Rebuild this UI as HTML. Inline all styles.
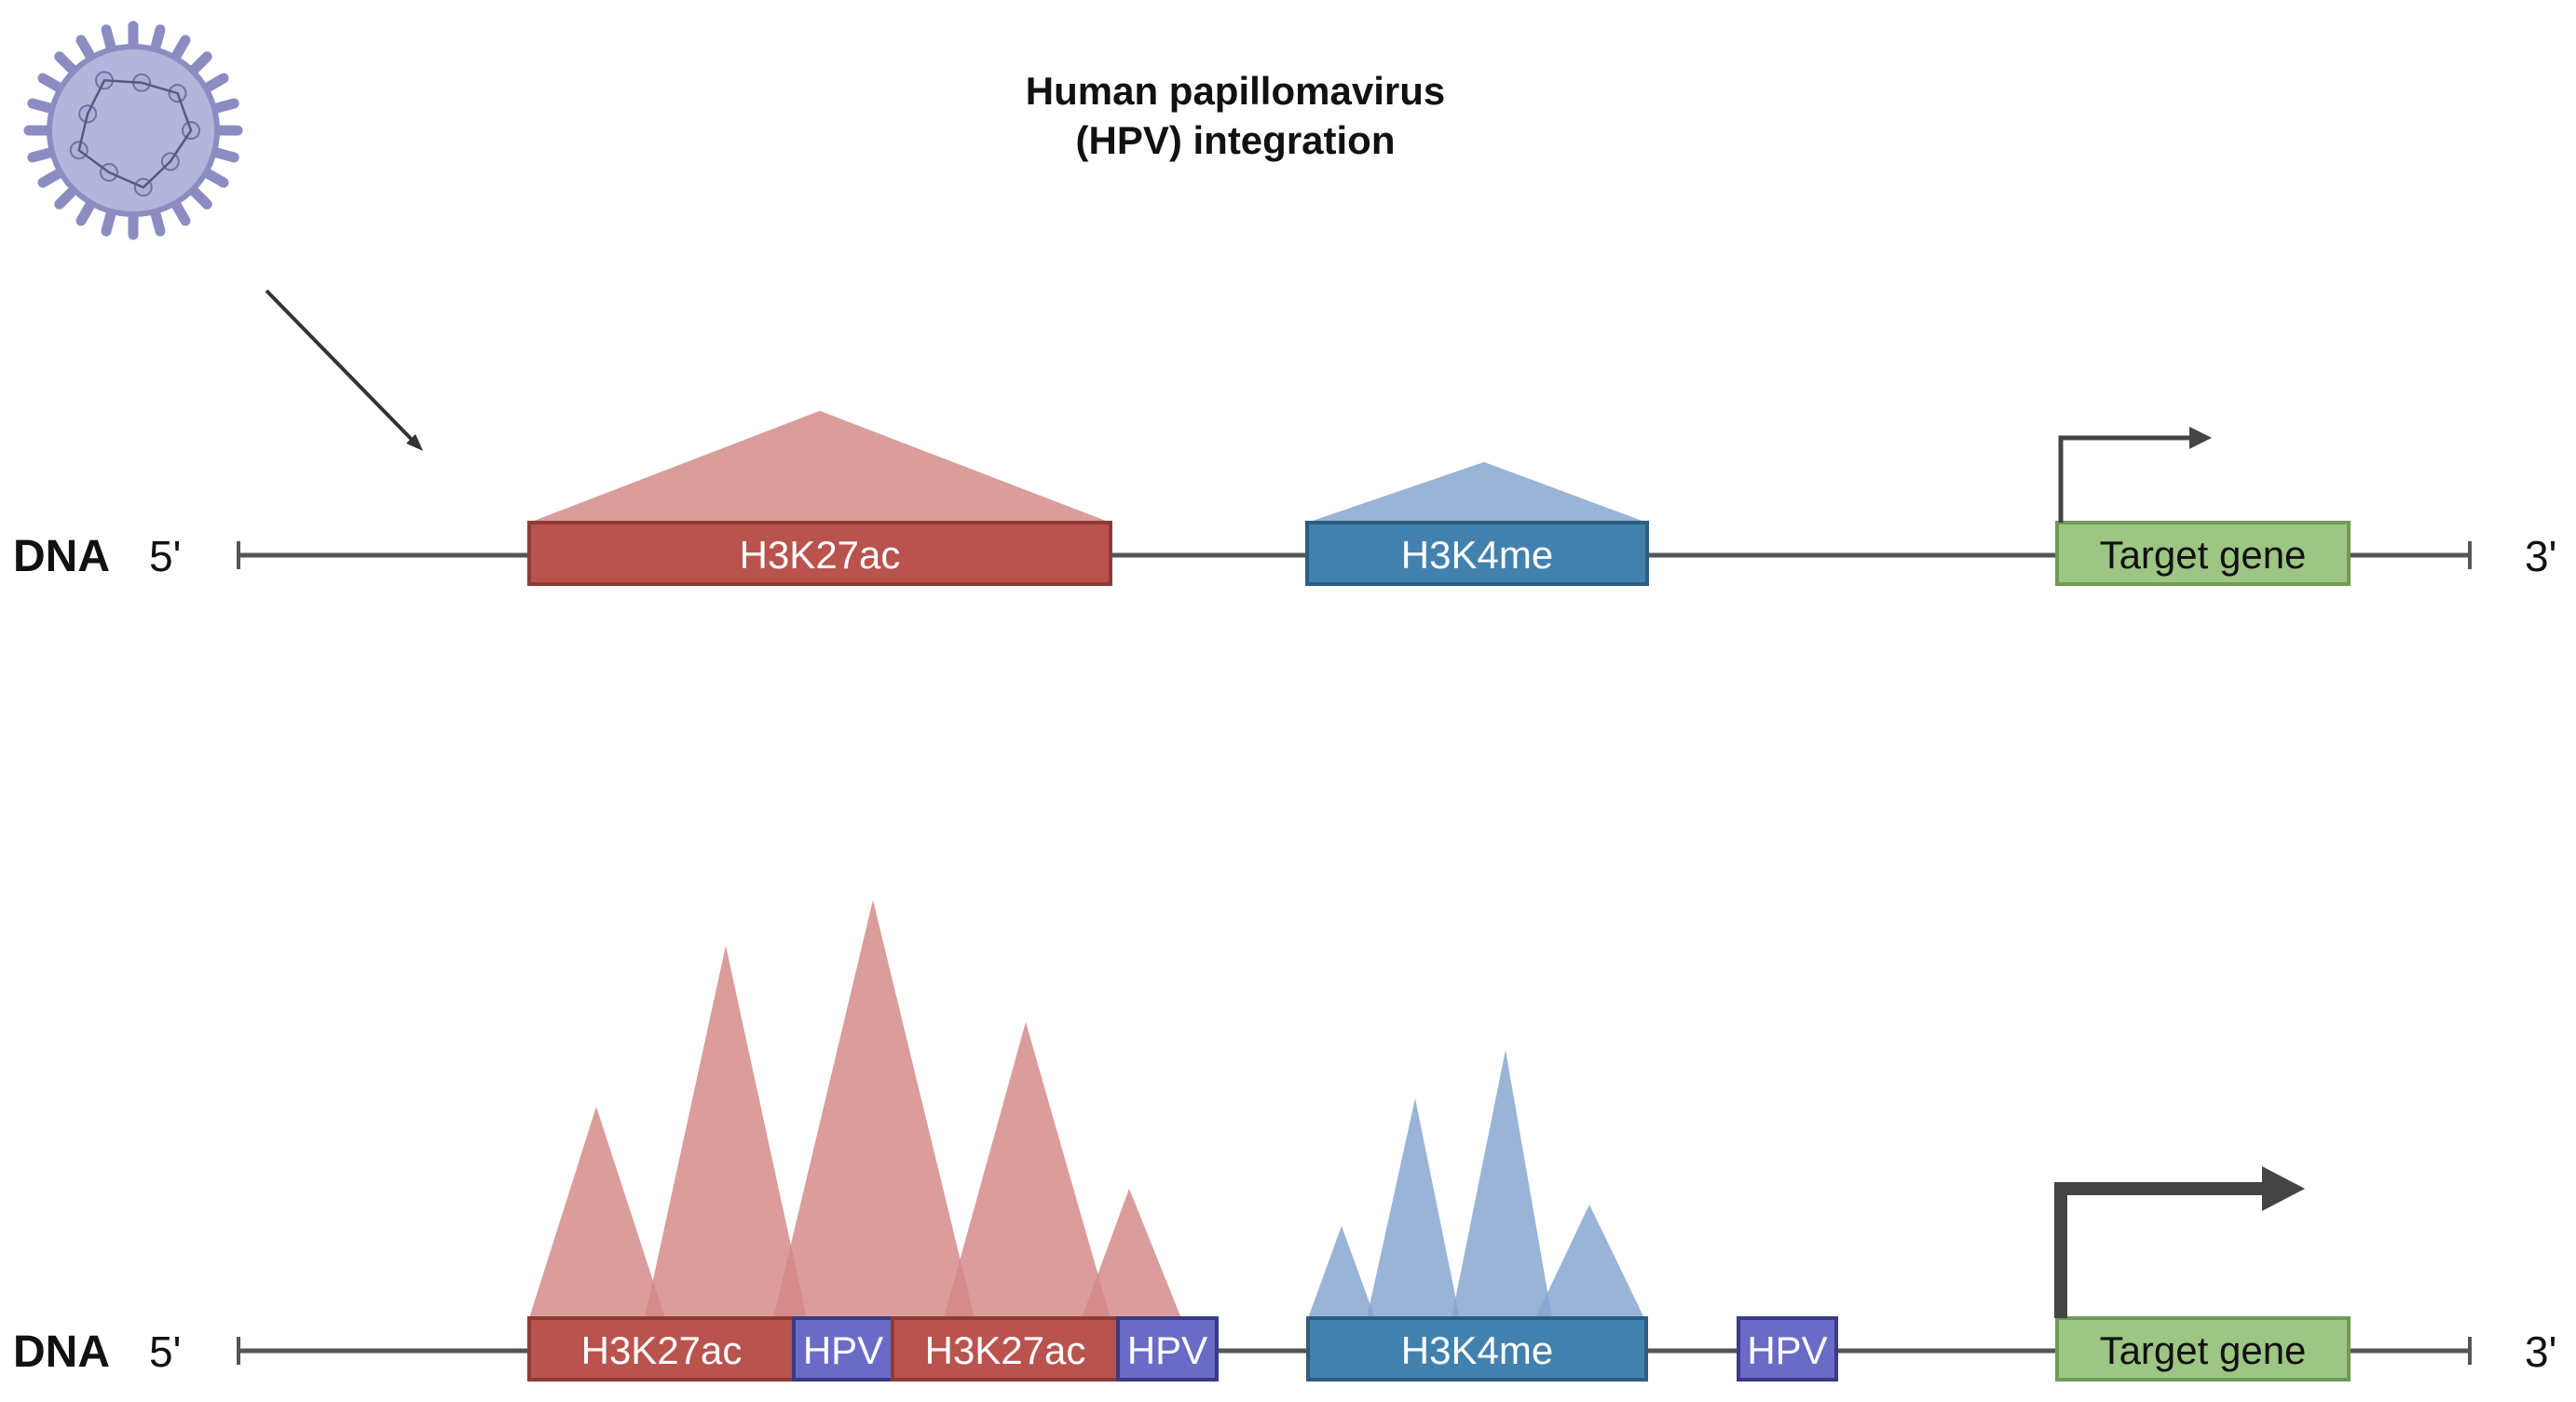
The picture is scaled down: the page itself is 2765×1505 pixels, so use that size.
<!DOCTYPE html>
<html><head><meta charset="utf-8"><style>
html,body{margin:0;padding:0;background:#fff;}
svg{display:block;}
text{font-family:"Liberation Sans",sans-serif;}
</style></head><body>
<svg id="fig" width="2765" height="1505" viewBox="0 0 2765 1505" xmlns="http://www.w3.org/2000/svg">
<text x="1326" y="112" font-size="42" font-weight="bold" text-anchor="middle" fill="#111">Human papillomavirus</text>
<text x="1326" y="165" font-size="42" font-weight="bold" text-anchor="middle" fill="#111">(HPV) integration</text>
<g id="virus"></g>
<g>
<line x1="286" y1="312" x2="446" y2="476" stroke="#333" stroke-width="4"/>
<polygon points="454,484 436,476 446,466" fill="#333"/>
</g>
<g id="peaks"></g>
<g id="tracks"></g>
</svg>
<script>
const NS="http://www.w3.org/2000/svg";
// track baselines
const trackY=[596,1450];
// top peaks: [baseLeft, apexX, baseRight, apexY]
const topRedPeaks=[[568,880,1192,441]];
const topBluePeaks=[[1403,1593,1768,496]];
// bottom peaks
const botRedPeaks=[[568,640,714,1188],[692,779,866,1015],[830,937,1046,966],[1013,1101,1192,1097],[1161,1212,1268,1276]];
const botBluePeaks=[[1404,1440,1476,1316],[1467,1519,1567,1179],[1558,1616,1666,1127],[1648,1706,1765,1293]];
// boxes: [label, x0, x1, kind]
const topBoxes=[["H3K27ac",568,1192,"red"],["H3K4me",1403,1768,"blue"],["Target gene",2208,2521,"green"]];
const botBoxes=[["H3K27ac",568,852,"red"],["HPV",852,958,"hpv"],["H3K27ac",958,1200,"red"],["HPV",1200,1306,"hpv"],["H3K4me",1404,1767,"blue"],["HPV",1866,1971,"hpv"],["Target gene",2208,2521,"green"]];
const style={red:["#b9534e","#8e3a37","#fff"],blue:["#4281ad","#2c5d80","#fff"],green:["#9dc584","#6f9a58","#111"],hpv:["#6a6bc6","#3a3b85","#fff"]};
function mk(tag,attrs,parent){const e=document.createElementNS(NS,tag);for(const k in attrs)e.setAttribute(k,attrs[k]);parent.appendChild(e);return e;}
const svg=document.getElementById('fig');
const peaks=document.getElementById('peaks');
const tracks=document.getElementById('tracks');
// virus
const v=document.getElementById('virus');
const cx=143,cy=140;
for(let i=0;i<24;i++){const a=i/24*Math.PI*2;
 const s=mk('line',{x1:cx+Math.cos(a)*85,y1:cy+Math.sin(a)*85,x2:cx+Math.cos(a)*112,y2:cy+Math.sin(a)*112,stroke:'#8b8dc2','stroke-width':11,'stroke-linecap':'round'},v);
 
 }
mk('circle',{cx:cx,cy:cy,r:90,fill:'#b4b5da',stroke:'#8b8dc2','stroke-width':6},v);
let pts=[];for(let i=0;i<9;i++){const a=i/9*Math.PI*2;const r=i%2?52:62;pts.push((cx+Math.cos(a)*r).toFixed(1)+','+(cy+Math.sin(a)*r).toFixed(1));
 mk('circle',{cx:cx+Math.cos(a)*r,cy:cy+Math.sin(a)*r,r:9,fill:'#aeb0d6',stroke:'#6f72a8','stroke-width':2},v);}
mk('polygon',{points:pts.join(' '),fill:'none',stroke:'#555a80','stroke-width':2.5},v);
function drawPeaks(arr,y,fill,name){arr.forEach(p=>{
 const t=mk('polygon',{points:`${p[0]},${y} ${p[1]},${p[3]} ${p[2]},${y}`,fill:fill,'fill-opacity':0.82},peaks);
 
 });}
function drawTrack(ti,boxes,peakR,peakB,arrowW){
 const y=trackY[ti];const bt=y-35;
 drawPeaks(peakR,bt,'#d28785','h3k27ac-peak');
 drawPeaks(peakB,bt,'#84a3d0','h3k4me-peak');
 const ln=mk('line',{x1:256,y1:y,x2:2651,y2:y,stroke:'#555','stroke-width':5},tracks);
 
 
 mk('line',{x1:256,y1:y-15,x2:256,y2:y+15,stroke:'#555','stroke-width':4},tracks);
 mk('line',{x1:2651,y1:y-15,x2:2651,y2:y+15,stroke:'#555','stroke-width':4},tracks);
 const d=mk('text',{x:14,y:y+17,'font-size':48,'font-weight':'bold',fill:'#111'},tracks);d.textContent='DNA';
 
 
 const f=mk('text',{x:160,y:y+17,'font-size':46,fill:'#111'},tracks);f.textContent="5'";
 
 
 const th=mk('text',{x:2710,y:y+17,'font-size':46,fill:'#111'},tracks);th.textContent="3'";
 
 
 boxes.forEach(b=>{const st=style[b[3]];
  const r=mk('rect',{x:b[1],y:bt,width:b[2]-b[1],height:66,fill:st[0],stroke:st[1],'stroke-width':4},tracks);
  
  
  const tx=mk('text',{x:(b[1]+b[2])/2,y:y+14,'font-size':42,'text-anchor':'middle',fill:st[2]},tracks);tx.textContent=b[0];
  
  });
 // promoter arrow
 const gx=2212,top=arrowW>6?1276:470,tip=arrowW>6?2474:2374,hh=arrowW>6?24:12,hl=arrowW>6?46:24;
 const g=mk('g',{},tracks);
 
 
 mk('polyline',{points:`${gx},${bt} ${gx},${top} ${tip-hl},${top}`,fill:'none',stroke:'#444','stroke-width':arrowW},g);
 mk('polygon',{points:`${tip-hl},${top-hh} ${tip},${top} ${tip-hl},${top+hh}`,fill:'#444'},g);
}
drawTrack(0,topBoxes,topRedPeaks,topBluePeaks,5);
drawTrack(1,botBoxes,botRedPeaks,botBluePeaks,14);
</script>
</body></html>
